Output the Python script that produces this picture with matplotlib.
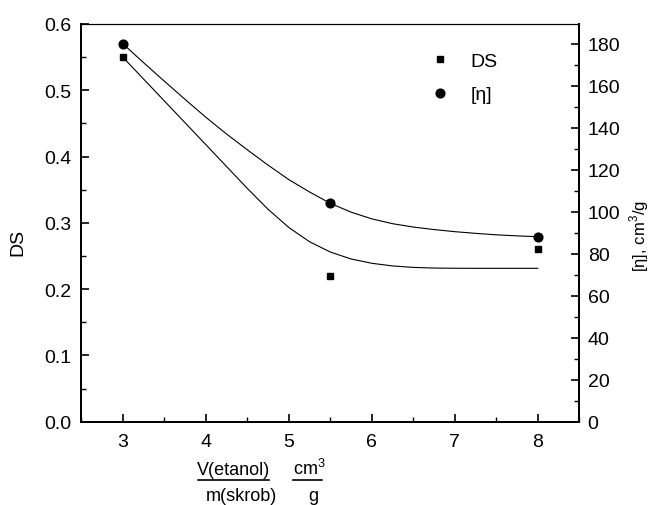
import matplotlib
matplotlib.use("Agg")
import matplotlib.pyplot as plt
from matplotlib.lines import Line2D
from matplotlib.ticker import MultipleLocator

plt.rcParams['font.family'] = ['Liberation Sans', 'DejaVu Sans']
plt.rcParams['mathtext.fontset'] = 'custom'
plt.rcParams['mathtext.rm'] = 'Liberation Sans'

# measured points
x_pts = [3, 5.5, 8]
ds_pts = [0.55, 0.22, 0.26]
eta_pts = [180, 104, 88]

# smooth curves
x_curve = [3.0, 3.25, 3.5, 3.75, 4.0, 4.25, 4.5, 4.75, 5.0, 5.25, 5.5,
           5.75, 6.0, 6.25, 6.5, 6.75, 7.0, 7.25, 7.5, 7.75, 8.0]
ds_curve = [0.550, 0.517, 0.484, 0.451, 0.418, 0.385, 0.352, 0.3205, 0.2930, 0.2715, 0.2560,
            0.2455, 0.2390, 0.2350, 0.2328, 0.2318, 0.2315, 0.2314, 0.2314, 0.2314, 0.2314]
eta_curve = [180, 171, 162.2, 153.5, 145, 137, 129.5, 122.2, 115.3, 109.4, 104,
             99.8, 96.6, 94.3, 92.7, 91.5, 90.5, 89.7, 89.0, 88.5, 88.1]

W, H = 656, 506
fig = plt.figure(figsize=(W/100, H/100), dpi=100)
ax = fig.add_axes([81.3/W, 1-422.7/H, (579.3-81.3)/W, (422.7-25)/H])
ax2 = ax.twinx()

ax.plot(x_curve, ds_curve, color='black', lw=0.8)
ax.plot(x_pts, ds_pts, 's', color='black', ms=5, ls='none')
ax2.plot(x_curve, eta_curve, color='black', lw=0.8)
ax2.plot(x_pts, eta_pts, 'o', color='black', ms=6.3, ls='none')

ax.set_xlim(2.5, 8.5)
ax.set_ylim(0, 0.6)
ax2.set_ylim(0, 189.4)

ax.xaxis.set_major_locator(MultipleLocator(1))
ax.xaxis.set_minor_locator(MultipleLocator(0.5))
ax.yaxis.set_major_locator(MultipleLocator(0.1))
ax.yaxis.set_minor_locator(MultipleLocator(0.05))
ax2.yaxis.set_major_locator(MultipleLocator(20))
ax2.yaxis.set_minor_locator(MultipleLocator(10))
ax.yaxis.set_major_formatter(plt.FormatStrFormatter('%.1f'))

for a in (ax, ax2):
    a.tick_params(which='major', direction='in', length=6, width=1.2, labelsize=14, pad=7)
    a.tick_params(which='minor', direction='in', length=3.5, width=1.0)
    for s in ('left', 'bottom', 'right'):
        a.spines[s].set_linewidth(1.4)
    a.spines['top'].set_linewidth(0.8)
ax.tick_params(axis='y', right=False)
ax.tick_params(axis='x', pad=8)
ax2.tick_params(axis='y', pad=6)

fig.text(18/W, 1-242/H, 'DS', rotation=90, fontsize=14, ha='center', va='center')
fig.text(639/W, 1-236/H, '[η], cm$^3$/g', rotation=90, fontsize=12, ha='center', va='center')

# fraction-style x label
fig.text(233.8/W, 1-471/H, 'V(etanol)', fontsize=13, ha='center', va='center')
fig.text(241/W, 1-497/H, 'm(skrob)', fontsize=13, ha='center', va='center')
fig.text(309/W, 1-469/H, 'cm$^3$', fontsize=13, ha='center', va='center')
fig.text(313/W, 1-497/H, 'g', fontsize=13, ha='center', va='center')
fig.add_artist(Line2D([198/W, 269/W], [1-481/H, 1-481/H], color='black', lw=1.2, transform=fig.transFigure))
fig.add_artist(Line2D([293/W, 322/W], [1-481/H, 1-481/H], color='black', lw=1.2, transform=fig.transFigure))

handles = [Line2D([], [], marker='s', color='black', ls='none', ms=5),
           Line2D([], [], marker='o', color='black', ls='none', ms=6.3)]
ax2.legend(handles, ['DS', '[η]'], loc='upper left', bbox_to_anchor=(0.665, 0.972),
           frameon=False, fontsize=14, handlelength=1.0, handletextpad=1.1, labelspacing=0.8)

fig.savefig('out.png', dpi=100)
